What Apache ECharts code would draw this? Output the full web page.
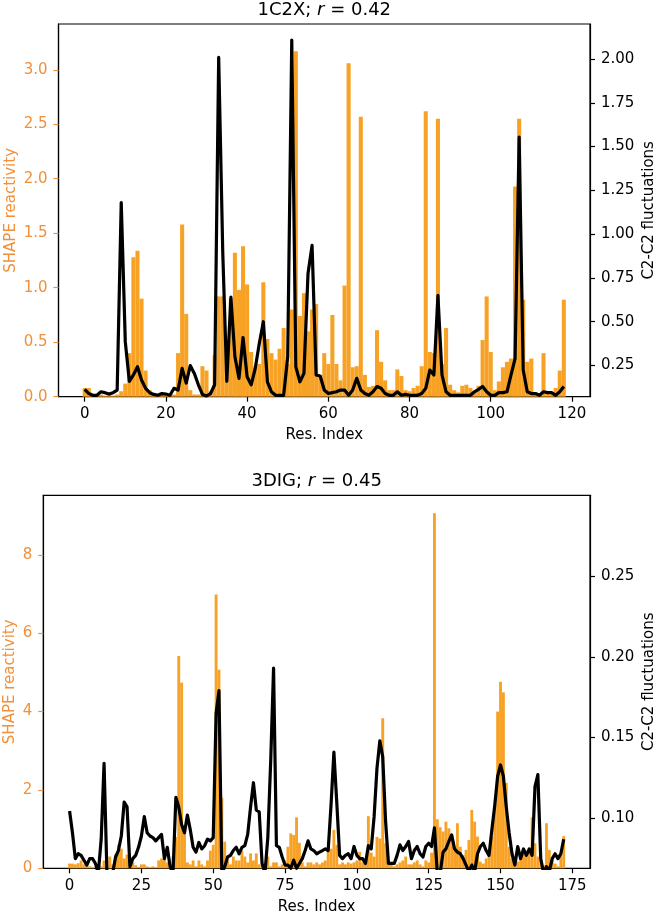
<!DOCTYPE html>
<html><head><meta charset="utf-8">
<script src="https://cdn.jsdelivr.net/npm/echarts@6/dist/echarts.min.js"></script>
<style>html,body{margin:0;padding:0;background:#fff}#c{width:656px;height:914px}</style>
</head><body><div id="c"></div>
<script>
// ---------- data ----------
const titleTop = '1C2X', rTop = '0.42';
const titleBot = '3DIG', rBot = '0.45';

const shapeTop = [0.08,0.08,0.02,0.01,0.02,0.01,0.02,0.01,0.02,0.05,
0.12,0.40,1.28,1.34,0.90,0.24,0.06,0.03,0.02,0.02,
0.01,0.02,0.02,0.40,1.58,0.76,0.06,0.02,0.02,0.28,
0.24,0.05,0.38,0.92,0.92,0.40,0.90,1.32,0.98,1.38,
1.03,0.41,0.28,0.30,1.05,0.53,0.40,0.34,0.44,0.63,
0.30,0.80,3.17,0.74,0.95,0.60,0.80,0.85,0.20,0.40,
0.30,0.75,0.30,0.15,1.02,3.06,0.27,0.28,2.57,0.20,
0.09,0.10,0.61,0.32,0.15,0.06,0.06,0.25,0.19,0.06,
0.05,0.08,0.10,0.28,2.62,0.41,0.40,2.55,0.30,0.63,
0.11,0.06,0.04,0.10,0.11,0.08,0.04,0.10,0.52,0.92,
0.41,0.06,0.14,0.27,0.32,0.35,1.93,2.55,0.89,0.32,
0.35,0.04,0.03,0.40,0.04,0.04,0.08,0.24,0.89];

const flucTop = [0.114,0.09,0.08,0.08,0.10,0.095,0.087,0.095,0.11,1.18,
0.385,0.16,0.196,0.243,0.167,0.12,0.095,0.085,0.08,0.09,
0.087,0.08,0.12,0.11,0.234,0.15,0.25,0.205,0.14,0.085,
0.076,0.09,0.14,2.01,0.90,0.16,0.64,0.30,0.177,0.41,
0.186,0.14,0.233,0.376,0.50,0.157,0.10,0.08,0.08,0.08,
0.30,2.108,0.243,0.157,0.205,0.775,0.936,0.196,0.19,0.11,
0.09,0.095,0.10,0.11,0.11,0.08,0.11,0.177,0.11,0.09,
0.08,0.10,0.13,0.12,0.09,0.08,0.08,0.10,0.08,0.085,
0.08,0.08,0.08,0.09,0.12,0.224,0.196,0.65,0.196,0.10,
0.08,0.08,0.08,0.08,0.08,0.08,0.10,0.114,0.13,0.10,
0.08,0.08,0.095,0.095,0.10,0.196,0.29,1.554,0.224,0.10,
0.09,0.09,0.08,0.10,0.095,0.095,0.08,0.10,0.13];

const shapeBot = [0.12,0.12,0.10,0.13,0.20,0.10,0.05,0.05,0.02,0.00,
0.02,0.05,0.20,0.28,0.30,0.10,0.35,0.60,0.50,0.25,
0.35,0.30,0.15,0.08,0.03,0.10,0.10,0.05,0.02,0.05,
0.02,0.20,0.25,0.25,0.15,0.10,0.30,0.80,5.42,4.74,
1.10,0.15,0.10,0.20,0.05,0.20,0.10,0.05,0.20,0.45,
0.60,6.99,5.07,1.80,0.68,0.20,0.10,0.30,0.20,0.20,
0.45,0.30,0.15,0.38,0.20,0.38,0.10,0.05,0.12,0.30,
0.05,0.15,0.15,0.05,0.10,0.20,0.55,0.89,0.85,1.30,
0.65,0.15,0.05,0.15,0.15,0.10,0.15,0.10,0.15,0.20,
0.45,0.50,0.98,0.60,0.10,0.15,0.10,0.15,0.12,0.15,
0.20,0.42,0.15,0.10,1.33,0.40,0.30,0.80,0.76,3.83,
0.64,0.20,0.10,0.05,0.10,0.15,0.20,0.30,0.10,0.10,
0.15,0.20,0.10,0.05,0.20,0.15,0.40,9.06,1.25,1.05,
0.94,1.19,1.02,0.72,0.45,1.15,0.55,0.34,0.47,0.72,
1.49,1.19,0.81,0.17,0.12,0.25,0.47,0.80,1.57,4.00,
4.76,4.49,2.18,0.55,0.25,0.08,0.17,0.30,0.38,0.34,
0.47,1.30,0.64,0.30,0.20,0.08,1.15,0.47,0.20,0.12,
0.05,0.34,0.82];

const flucBot = [0.1045,0.091,0.075,0.078,0.077,0.074,0.071,0.075,0.075,0.072,
0.066,0.087,0.134,0.066,0.066,0.066,0.076,0.080,0.089,0.110,
0.107,0.070,0.075,0.077,0.082,0.089,0.101,0.091,0.089,0.088,
0.086,0.088,0.090,0.075,0.082,0.070,0.066,0.113,0.107,0.096,
0.091,0.102,0.093,0.082,0.079,0.085,0.081,0.083,0.087,0.086,
0.088,0.165,0.179,0.066,0.070,0.076,0.077,0.080,0.082,0.078,
0.082,0.083,0.090,0.107,0.122,0.105,0.104,0.072,0.066,0.088,
0.135,0.193,0.083,0.082,0.076,0.071,0.071,0.069,0.074,0.069,
0.072,0.075,0.080,0.086,0.081,0.080,0.078,0.079,0.080,0.081,
0.080,0.108,0.141,0.110,0.077,0.075,0.077,0.078,0.075,0.0825,
0.077,0.075,0.075,0.072,0.083,0.081,0.101,0.131,0.148,0.138,
0.098,0.072,0.072,0.072,0.077,0.0835,0.080,0.0825,0.0856,0.075,
0.080,0.0825,0.078,0.076,0.0825,0.0845,0.0825,0.094,0.066,0.066,
0.079,0.081,0.0856,0.0897,0.081,0.079,0.078,0.075,0.071,0.067,
0.071,0.067,0.078,0.0825,0.0845,0.080,0.077,0.093,0.108,0.126,
0.133,0.126,0.107,0.091,0.078,0.071,0.0825,0.075,0.081,0.077,
0.081,0.077,0.1196,0.127,0.075,0.066,0.070,0.067,0.075,0.078,
0.075,0.078,0.087];

const xTicksTop = [0,20,40,60,80,100,120];
const xTicksBot = [0,25,50,75,100,125,150,175];
const yLeftTicksTop = [0,0.5,1.0,1.5,2.0,2.5,3.0];
const yRightTicksTop = [0.25,0.50,0.75,1.00,1.25,1.50,1.75,2.00];
const yLeftTicksBot = [0,2,4,6,8];
const yRightTicksBot = [0.10,0.15,0.20,0.25];

// ---------- style / layout ----------
const ORANGE = '#F7A225';
const ORANGE_TXT = '#F0903A';
const FONT = 'DejaVu Sans';
const FS = 15;
const layout = [
  {left:58.5, top:24, width:531.5, height:372.7, xmin:-6.45, xmax:124.45, ylmax:3.42, yrmin:0.072, yrmax:2.20, lgap:40, rgap:52},
  {left:43.3, top:495.3, width:546.7, height:373, xmin:-9.15, xmax:181.15, ylmax:9.52, yrmin:0.069, yrmax:0.30, lgap:26, rgap:52}
];
const xTicks = [xTicksTop, xTicksBot];
const ylTicks = [yLeftTicksTop, yLeftTicksBot];
const yrTicks = [yRightTicksTop, yRightTicksBot];
const ylFmt = [v => v.toFixed(1), v => String(Math.round(v))];
const shapes = [shapeTop, shapeBot];
const flucs = [flucTop, flucBot];
const titles = [[titleTop, rTop], [titleBot, rBot]];

const grids = [], xAxes = [], yAxes = [], series = [], graphics = [];
layout.forEach((L, k) => {
  grids.push({left:L.left, top:L.top, width:L.width, height:L.height, show:true,
    borderColor:'#000', borderWidth:1.2, backgroundColor:'transparent',
    containLabel:false, outerBoundsMode:'none'});
  xAxes.push({type:'value', gridIndex:k, min:L.xmin, max:L.xmax,
    axisLine:{show:true, onZero:false, lineStyle:{color:'#000', width:1.2}},
    axisTick:{show:true, customValues:xTicks[k], length:5, lineStyle:{color:'#000', width:1.2}},
    axisLabel:{show:true, customValues:xTicks[k], color:'#000', fontSize:FS, fontFamily:FONT, margin:10},
    splitLine:{show:false},
    name:'Res. Index', nameLocation:'middle', nameGap:31, nameMoveOverlap:false,
    nameTextStyle:{color:'#000', fontSize:FS, fontFamily:FONT}});
  yAxes.push({type:'value', gridIndex:k, position:'left', min:0, max:L.ylmax,
    axisLine:{show:true, onZero:false, lineStyle:{color:'#000', width:1.2}},
    axisTick:{show:true, customValues:ylTicks[k], length:5, lineStyle:{color:ORANGE_TXT, width:1.2}},
    axisLabel:{show:true, customValues:ylTicks[k], formatter:ylFmt[k], color:ORANGE_TXT, fontSize:FS, fontFamily:FONT, margin:11},
    splitLine:{show:false},
    name:'SHAPE reactivity', nameLocation:'middle', nameGap:L.lgap, nameRotate:90, nameMoveOverlap:false,
    nameTextStyle:{color:ORANGE_TXT, fontSize:FS, fontFamily:FONT}});
  yAxes.push({type:'value', gridIndex:k, position:'right', min:L.yrmin, max:L.yrmax,
    axisLine:{show:true, onZero:false, lineStyle:{color:'#000', width:1.2}},
    axisTick:{show:true, customValues:yrTicks[k], length:5, lineStyle:{color:'#000', width:1.2}},
    axisLabel:{show:true, customValues:yrTicks[k], formatter:v => v.toFixed(2), color:'#000', fontSize:FS, fontFamily:FONT, margin:11},
    splitLine:{show:false},
    name:'C2-C2 fluctuations', nameLocation:'middle', nameGap:L.rgap, nameRotate:90, nameMoveOverlap:false,
    nameTextStyle:{color:'#000', fontSize:FS, fontFamily:FONT}});
  const pxPerUnit = L.width / (L.xmax - L.xmin);
  series.push({type:'bar', xAxisIndex:k, yAxisIndex:2*k,
    data:shapes[k].map((v, i) => [i, v]), barWidth:pxPerUnit,
    itemStyle:{color:ORANGE}, z:1, silent:true});
  series.push({type:'line', xAxisIndex:k, yAxisIndex:2*k+1,
    data:flucs[k].map((v, i) => [i, v]), showSymbol:false, symbol:'none',
    lineStyle:{color:'#000', width:3.2, join:'round'}, z:3, silent:true, clip:true});
  graphics.push({type:'text', x:L.left + L.width/2, y:L.top - 14,
    style:{text:'{a|' + titles[k][0] + '; }{b|r}{a| = ' + titles[k][1] + '}',
      rich:{a:{fontSize:18, fontFamily:FONT, fill:'#000'}, b:{fontSize:18, fontFamily:FONT, fontStyle:'italic', fill:'#000'}},
      align:'center', verticalAlign:'middle'}});
});

const chart = echarts.init(document.getElementById('c'), null, {renderer:'canvas'});
chart.setOption({animation:false, backgroundColor:'#fff', grid:grids, xAxis:xAxes, yAxis:yAxes, series:series, graphic:graphics});
</script></body></html>
